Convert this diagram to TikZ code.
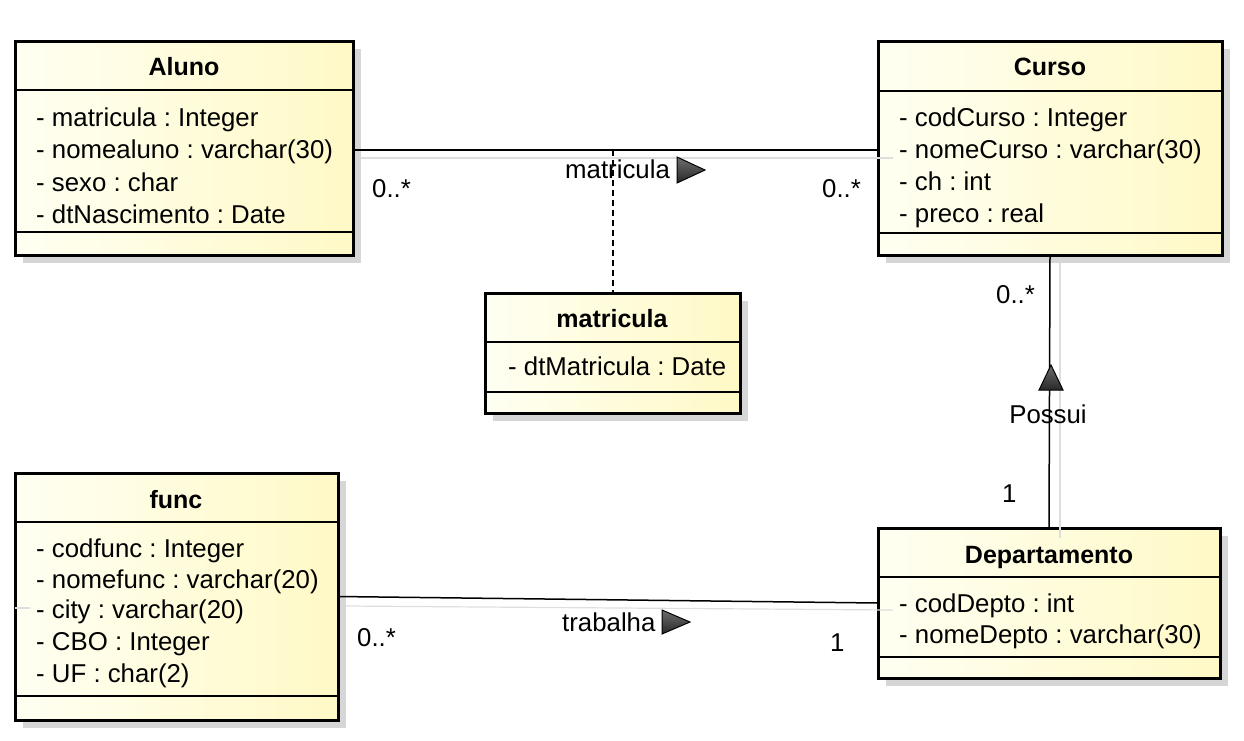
\documentclass[tikz,border=0pt]{standalone}
\usepackage{fontspec}
\setmainfont{Liberation Sans}
\frenchspacing
\definecolor{boxL}{RGB}{255,255,242}
\definecolor{boxR}{RGB}{255,249,198}
\definecolor{shadowgray}{RGB}{214,214,214}
\definecolor{lineshadow}{RGB}{222,222,222}
\definecolor{triL}{RGB}{110,110,110}
\definecolor{triD}{RGB}{40,40,40}
\begin{document}
\begin{tikzpicture}[x=1pt,y=-1pt,
  classbox/.style={draw=black, line width=3pt, inner sep=0pt, outer sep=0pt,
    anchor=north west, left color=boxL, right color=boxR},
  sepline/.style={draw=black, line width=1.5pt},
  attr/.style={anchor=base west, inner sep=0pt, font=\fontsize{25.8}{30}\selectfont},
  title/.style={anchor=base, inner sep=0pt, font=\fontsize{25}{30}\selectfont\bfseries},
  lbl/.style={anchor=base west, inner sep=0pt, font=\fontsize{25.8}{30}\selectfont},
  assoc/.style={draw=black, line width=1.5pt},
  assocshadow/.style={draw=lineshadow, line width=1.2pt},
  dirtri/.style={draw=black, line width=1pt, top color=triL, bottom color=triD},
]
\useasboundingbox (0,0) rectangle (1244,740);

% ---------- box shadows ----------
\fill[shadowgray] (23,49) rectangle (361,263);
\fill[shadowgray] (886,49) rectangle (1230,263);
\fill[shadowgray] (493,301) rectangle (748,421);
\fill[shadowgray] (23,481) rectangle (346,728);
\fill[shadowgray] (886,536) rectangle (1228,686);

% ---------- connectors ----------
\coordinate (amid) at (613,150);
\draw[assoc, dash pattern=on 6pt off 4pt, line width=1.4pt] (amid) -- (613,293);

% ---------- classes ----------
% Aluno
\node[classbox, minimum width=338pt, minimum height=214pt] (aluno) at (15,41) {};
\draw[sepline] (15,90) -- (353,90);
\draw[sepline] (15,232) -- (353,232);
\node[title] (aluno-t) at (184,75) {Aluno};
\node[attr] (aluno-1) at (36,126) {- matricula : Integer};
\node[attr] (aluno-2) at (36,158) {- nomealuno : varchar(30)};
\node[attr] (aluno-3) at (36,191) {- sexo : char};
\node[attr] (aluno-4) at (36,223) {- dtNascimento : Date};

% Curso
\node[classbox, minimum width=344pt, minimum height=214pt] (curso) at (878,41) {};
\draw[sepline] (878,91) -- (1222,91);
\draw[sepline] (878,233) -- (1222,233);
\node[title] (curso-t) at (1050,75) {Curso};
\node[attr] (curso-1) at (899,126) {- codCurso : Integer};
\node[attr] (curso-2) at (899,158) {- nomeCurso : varchar(30)};
\node[attr] (curso-3) at (899,190) {- ch : int};
\node[attr] (curso-4) at (899,222) {- preco : real};

% matricula (association class)
\node[classbox, minimum width=255pt, minimum height=120pt] (matr) at (485,293) {};
\draw[sepline] (485,342) -- (740,342);
\draw[sepline] (485,392) -- (740,392);
\node[title] (matr-t) at (612,327) {matricula};
\node[attr] (matr-1) at (508,375) {- dtMatricula : Date};

% func
\node[classbox, minimum width=323pt, minimum height=247pt] (func) at (15,473) {};
\draw[sepline] (15,522) -- (338,522);
\draw[sepline] (15,696) -- (338,696);
\node[title] (func-t) at (176,508) {func};
\node[attr] (func-1) at (36,557) {- codfunc : Integer};
\node[attr] (func-2) at (36,588) {- nomefunc : varchar(20)};
\node[attr] (func-3) at (36,618) {- city : varchar(20)};
\node[attr] (func-4) at (36,650) {- CBO : Integer};
\node[attr] (func-5) at (36,682) {- UF : char(2)};

% Departamento
\node[classbox, minimum width=342pt, minimum height=150pt] (dept) at (878,528) {};
\draw[sepline] (878,577) -- (1220,577);
\draw[sepline] (878,657) -- (1220,657);
\node[title] (dept-t) at (1049,563) {Departamento};
\node[attr] (dept-1) at (899,612) {- codDepto : int};
\node[attr] (dept-2) at (899,643) {- nomeDepto : varchar(30)};

% ---------- associations ----------
\draw[assocshadow] (361,158) -- (893,158);
\draw[assocshadow] (1060,263) -- (1060,538);
\draw[assocshadow] (346,606) -- (893,610);
\draw[assocshadow] (15,608) -- (30,608);

\draw[assoc] ([yshift=-2pt]aluno.east) -- ([yshift=-2pt]curso.west);
\draw[assoc] (curso.south) -- (dept.north);
\draw[assoc] (func.east) -- (dept.west);

% matricula association labels
\node[lbl] (m-name) at (565,178) {matricula};
\draw[dirtri] (677,157) -- (705,170) -- (677,183) -- cycle;
\node[lbl] (m-a) at (372,197) {0..*};
\node[lbl] (m-c) at (822,197) {0..*};

% Possui association labels
\draw[dirtri] (1051,365) -- (1063,390) -- (1039,390) -- cycle;
\node[anchor=base, inner sep=0pt, font=\fontsize{25.8}{30}\selectfont] (p-name) at (1048,423) {Possui};
\node[lbl] (p-c) at (996,303) {0..*};
\node[lbl] (p-d) at (1002,502) {1};

% trabalha association labels
\node[lbl] (t-name) at (562,631) {trabalha};
\draw[dirtri] (662,610) -- (690,622) -- (662,634) -- cycle;
\node[lbl] (t-f) at (357,646) {0..*};
\node[lbl] (t-d) at (830,651) {1};
\end{tikzpicture}
\end{document}
